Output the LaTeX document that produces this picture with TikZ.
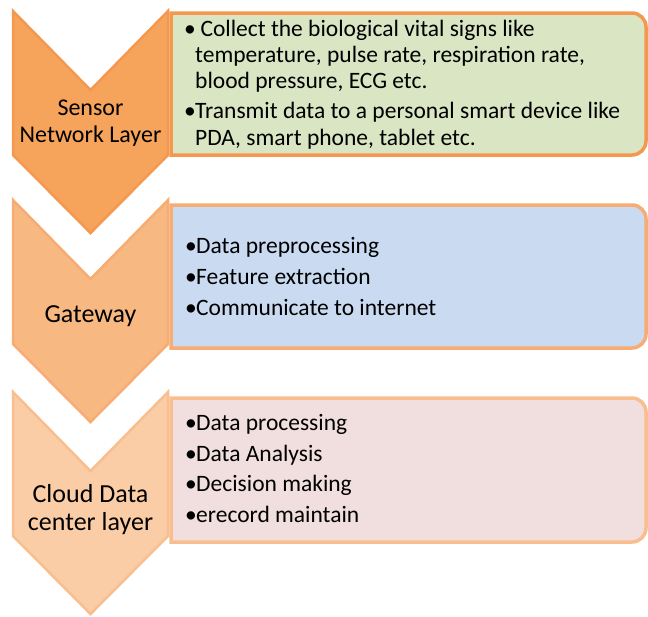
\documentclass[tikz,border=0pt]{standalone}
\usepackage{fontspec}
\setmainfont{Carlito}
\usepackage{tikz}
\usepackage{xcolor}

\definecolor{chevA}{RGB}{246,164,92}
\definecolor{chevAline}{RGB}{243,152,78}
\definecolor{chevB}{RGB}{248,184,130}
\definecolor{chevBline}{RGB}{246,172,114}
\definecolor{chevC}{RGB}{250,205,166}
\definecolor{chevCline}{RGB}{248,190,142}
\definecolor{greenbox}{RGB}{218,229,196}
\definecolor{bluebox}{RGB}{202,219,241}
\definecolor{pinkbox}{RGB}{241,222,222}

\newcommand{\bul}{\makebox[11pt][l]{\textbullet}}
\newcommand{\ind}{\hspace*{11pt}}

\begin{document}
\begin{tikzpicture}[x=1pt,y=-1pt,
  chev/.style={line width=2.5pt,line join=miter},
  infobox/.style={line width=3.5pt},
  lab/.style={align=center,inner sep=0pt,anchor=base},
  items/.style={align=left,inner sep=0pt,anchor=base west}]
\useasboundingbox (0,0) rectangle (648,616);

% chevrons
\draw[chev,fill=chevA,draw=chevAline] (13,11) -- (90.5,90) -- (168,11) -- (168,155) -- (90.5,233) -- (13,155) -- cycle;
\draw[chev,fill=chevB,draw=chevBline] (13,200) -- (90.5,279) -- (168,200) -- (168,344) -- (90.5,422) -- (13,344) -- cycle;
\draw[chev,fill=chevC,draw=chevCline] (13,392) -- (90.5,471) -- (168,392) -- (168,536) -- (90.5,614) -- (13,536) -- cycle;

% boxes, rounded on the right only
\draw[infobox,fill=greenbox,draw=chevAline] (171,13) -- (632,13) arc (270:360:14) -- (646,141) arc (0:90:14) -- (171,155) -- cycle;
\draw[infobox,fill=bluebox,draw=chevBline] (171,205) -- (632,205) arc (270:360:14) -- (646,334) arc (0:90:14) -- (171,348) -- cycle;
\draw[infobox,fill=pinkbox,draw=chevCline] (171,398) -- (632,398) arc (270:360:14) -- (646,528) arc (0:90:14) -- (171,542) -- cycle;

% base of a multi-line node is its last line
\node[lab,font=\fontsize{24}{27}\selectfont] (sensor) at (90.5,142) {Sensor\\Network Layer};
\node[lab,font=\fontsize{26}{28}\selectfont] (gateway) at (90.5,322) {Gateway};
\node[lab,font=\fontsize{26}{28}\selectfont] (cloud) at (90.5,530) {Cloud Data\\center layer};

\node[items,font=\fontsize{23.5}{26.3}\selectfont] (sensoritems) at (184,145)
  {\bul\ Collect the biological vital signs like\\
   \ind temperature, pulse rate, respiration rate,\\
   \ind blood pressure, ECG etc.\\[3.7pt]
   \bul Transmit data to a personal smart device like\\
   \ind PDA, smart phone, tablet etc.};
\node[items,font=\fontsize{23.5}{31}\selectfont] (gatewayitems) at (185,315)
  {\bul Data preprocessing\\
   \bul Feature extraction\\
   \bul Communicate to internet};
\node[items,font=\fontsize{23.5}{30.5}\selectfont] (clouditems) at (185,522)
  {\bul Data processing\\
   \bul Data Analysis\\
   \bul Decision making\\
   \bul erecord maintain};

\end{tikzpicture}
\end{document}
